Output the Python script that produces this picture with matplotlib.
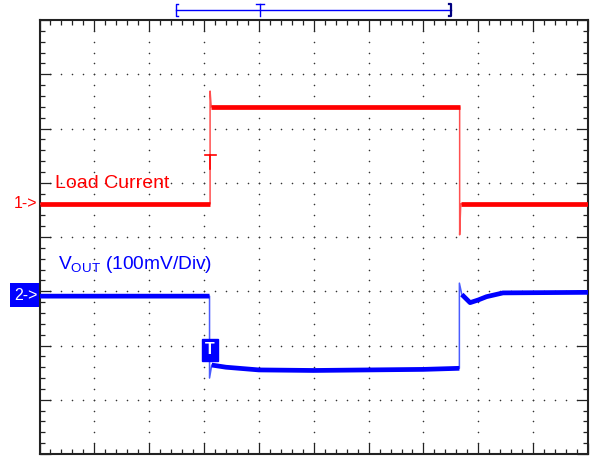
import numpy as np
import matplotlib.pyplot as plt
from matplotlib.patches import Rectangle
from matplotlib.ticker import MultipleLocator

plt.rcParams['font.family'] = ['Liberation Sans', 'DejaVu Sans']
plt.rcParams['mathtext.fontset'] = 'custom'
plt.rcParams['mathtext.rm'] = 'Liberation Sans'

# screen is 10 x 8 divisions; values below are in divisions (bottom-left = 0,0)
red_t = [0, 3.11, 3.11, 3.13, 7.66, 7.66, 7.68, 10]
red_v = [4.61, 4.61, 6.69, 6.40, 6.40, 4.04, 4.61, 4.61]

blue_t = [0, 3.10, 3.10, 3.14, 3.4, 4.0, 5.0, 6.0, 7.0, 7.655, 7.655, 7.70,
          7.85, 8.0, 8.15, 8.45, 10]
blue_v = [2.91, 2.91, 1.40, 1.64, 1.60, 1.55, 1.54, 1.55, 1.56, 1.58, 3.15,
          2.94, 2.79, 2.84, 2.90, 2.97, 2.98]

trig_t = 3.11
trig_level = 5.51          # red trigger level marker
ch1_ref, ch2_ref = 4.61, 2.91
window_lo, window_hi, window_t = 2.49, 7.51, 4.02   # top record-window bracket

RED, BLUE = '#ff0000', '#0000ff'

fig = plt.figure(figsize=(5.94, 4.58), dpi=100)
ax = fig.add_axes([0.0665, 0.0087, 0.9234, 0.9476])
ax.set_xlim(0, 10)
ax.set_ylim(0, 8)

# frame and ticks
for s in ax.spines.values():
    s.set_linewidth(1.5)
    s.set_color('#222222')
ax.xaxis.set_major_locator(MultipleLocator(1))
ax.xaxis.set_minor_locator(MultipleLocator(0.2))
ax.yaxis.set_major_locator(MultipleLocator(1))
ax.yaxis.set_minor_locator(MultipleLocator(0.2))
ax.tick_params(which='both', direction='in', top=True, right=True,
               labelbottom=False, labelleft=False, color='#222222', width=0.9)
ax.tick_params(which='major', length=8)
ax.tick_params(which='minor', length=3.3)

# dotted graticule
minor = np.arange(0.2, 10, 0.2)
minor_y = np.arange(0.2, 8, 0.2)
for k in range(1, 10):
    ax.scatter(np.full(minor_y.size, k), minor_y, s=1.3, color='#333333',
               linewidths=0, zorder=1)
for k in range(1, 8):
    ax.scatter(minor, np.full(minor.size, k), s=1.3, color='#333333',
               linewidths=0, zorder=1)


def draw_trace(t, v, color, edge_color):
    ax.plot(t, v, color=edge_color, lw=1.1, zorder=3)
    tt, vv = [], []
    for i in range(len(t)):
        if i > 0 and t[i] - t[i - 1] < 0.05:
            tt.append(np.nan)
            vv.append(np.nan)
        tt.append(t[i])
        vv.append(v[i])
    ax.plot(tt, vv, color=color, lw=3.4, solid_capstyle='butt', zorder=4)


draw_trace(red_t, red_v, RED, '#ff5050')
draw_trace(blue_t, blue_v, BLUE, '#4a5cff')

# red trigger level mark
ax.plot([trig_t - 0.1, trig_t + 0.1], [trig_level, trig_level], color=RED, lw=1.2, zorder=5)
ax.plot([trig_t, trig_t], [trig_level, trig_level - 0.25], color=RED, lw=1.2, zorder=5)

# blue T marker
ax.text(trig_t, 1.92, 'T', color='white', fontsize=11.5, fontweight='bold',
        ha='center', va='center', zorder=6,
        bbox=dict(boxstyle='square,pad=0.2', fc=BLUE, ec=BLUE))

# labels
ax.text(0.28, 4.99, 'Load Current', color=RED, fontsize=14, va='center')
ax.text(0.34, 3.49, r'V$_{\mathrm{OUT}}$ (100mV/Div)', color=BLUE, fontsize=13.8,
        va='center')

# channel reference markers left of the screen
ax.text(-0.04, ch1_ref, '1->', color=RED, fontsize=11.5, ha='right', va='center',
        clip_on=False)
ax.add_patch(Rectangle((-0.54, 2.71), 0.53, 0.44, fc=BLUE, ec='none', clip_on=False))
ax.text(-0.04, ch2_ref + 0.02, '2->', color='white', fontsize=11.5, ha='right',
        va='center', clip_on=False)

# record window bracket above the screen
yb = 8.18
ax.plot([window_lo, window_hi], [yb, yb], color=BLUE, lw=1.0, clip_on=False)
ax.plot([window_lo + 0.04, window_lo, window_lo, window_lo + 0.04],
        [yb + 0.11, yb + 0.11, yb - 0.11, yb - 0.11], color=BLUE, lw=1.0, clip_on=False)
ax.plot([window_t - 0.07, window_t + 0.07], [yb + 0.11, yb + 0.11], color=BLUE, lw=1.0,
        clip_on=False)
ax.plot([window_t, window_t], [yb + 0.11, yb - 0.11], color=BLUE, lw=1.0, clip_on=False)
ax.plot([window_hi - 0.04, window_hi, window_hi, window_hi - 0.04],
        [yb + 0.11, yb + 0.11, yb - 0.11, yb - 0.11], color='#000080', lw=1.6,
        clip_on=False)

plt.savefig('out.png', dpi=100)
